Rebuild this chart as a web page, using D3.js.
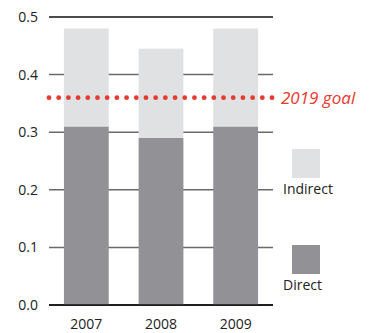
<!DOCTYPE html>
<html>
<head>
<meta charset="utf-8">
<script src="https://cdn.jsdelivr.net/npm/d3@7"></script>
<style>
  body { margin: 0; background: #fff; }
  svg { display: block; font-family: "Open Sans", "Noto Sans", sans-serif; }
</style>
</head>
<body>
<svg id="chart" width="371" height="333"></svg>
<script>
// Emissions per year, split into direct and indirect parts
const years = ["2007", "2008", "2009"];
const directValues = [0.31, 0.29, 0.31];
const indirectValues = [0.17, 0.155, 0.17];
const goalValue = 0.36;
const goalLabel = "2019 goal";
const yTicks = [0, 0.1, 0.2, 0.3, 0.4, 0.5];
const legendLabels = ["Indirect", "Direct"];

const colors = { Direct: "#929196", Indirect: "#e0e1e3", goal: "#e8392f" };

const svg = d3.select("#chart");
const plot = { left: 49, right: 273, top: 17, bottom: 305 };

const x = d3.scaleBand().domain(years).range([plot.left, plot.right])
  .paddingInner(0.4).paddingOuter(0.2);
const y = d3.scaleLinear().domain([0, 0.5]).range([plot.bottom, plot.top]);

// Horizontal grid lines
svg.append("g").selectAll("line").data(yTicks).join("line")
  .attr("x1", plot.left).attr("x2", plot.right)
  .attr("y1", d => y(d)).attr("y2", d => y(d))
  .attr("stroke", d => (d === 0 || d === 0.5) ? "#111" : "#6a6a6a")
  .attr("stroke-width", d => (d === 0 || d === 0.5) ? 1.3 : 1.5);

// Y tick labels
svg.append("g").selectAll("text").data(yTicks).join("text")
  .attr("x", 38).attr("y", d => y(d) + 5)
  .attr("text-anchor", "end")
  .attr("font-size", 14).attr("fill", "#222")
  .text(d => d.toFixed(1));

// Stacked bars
const rows = years.map((yr, i) => ({ year: yr, Direct: directValues[i], Indirect: indirectValues[i] }));
const stack = d3.stack().keys(["Direct", "Indirect"])(rows);
svg.append("g").selectAll("g").data(stack).join("g")
  .attr("fill", s => colors[s.key])
  .selectAll("rect").data(s => s).join("rect")
  .attr("x", d => x(d.data.year))
  .attr("width", x.bandwidth())
  .attr("y", d => y(d[1]))
  .attr("height", d => y(d[0]) - y(d[1]));

// Baseline redrawn on top of the bars
svg.append("line")
  .attr("x1", plot.left).attr("x2", plot.right)
  .attr("y1", y(0)).attr("y2", y(0))
  .attr("stroke", "#111").attr("stroke-width", 1.3);

// X labels
svg.append("g").selectAll("text").data(years).join("text")
  .attr("x", d => x(d) + x.bandwidth() / 2)
  .attr("y", 329)
  .attr("text-anchor", "middle")
  .attr("font-size", 14).attr("fill", "#222")
  .text(d => d);

// Goal: dotted red line
const dotCount = 24;
const dotXs = d3.range(dotCount).map(i => plot.left + i * (plot.right - plot.left - 1) / (dotCount - 1));
svg.append("g").selectAll("circle").data(dotXs).join("circle")
  .attr("cx", d => d).attr("cy", y(goalValue))
  .attr("r", 2.4).attr("fill", colors.goal);

svg.append("text")
  .attr("x", 281).attr("y", y(goalValue) + 6)
  .attr("font-size", 17).attr("font-style", "italic")
  .attr("fill", colors.goal)
  .text(goalLabel);

// Legend
const legendY = { Indirect: 149, Direct: 245 };
legendLabels.forEach(k => {
  svg.append("rect")
    .attr("x", 292).attr("y", legendY[k])
    .attr("width", 28).attr("height", 29)
    .attr("fill", colors[k]);
  svg.append("text")
    .attr("x", 283).attr("y", legendY[k] + 45)
    .attr("font-size", 14).attr("fill", "#222")
    .text(k);
});
</script>
</body>
</html>
